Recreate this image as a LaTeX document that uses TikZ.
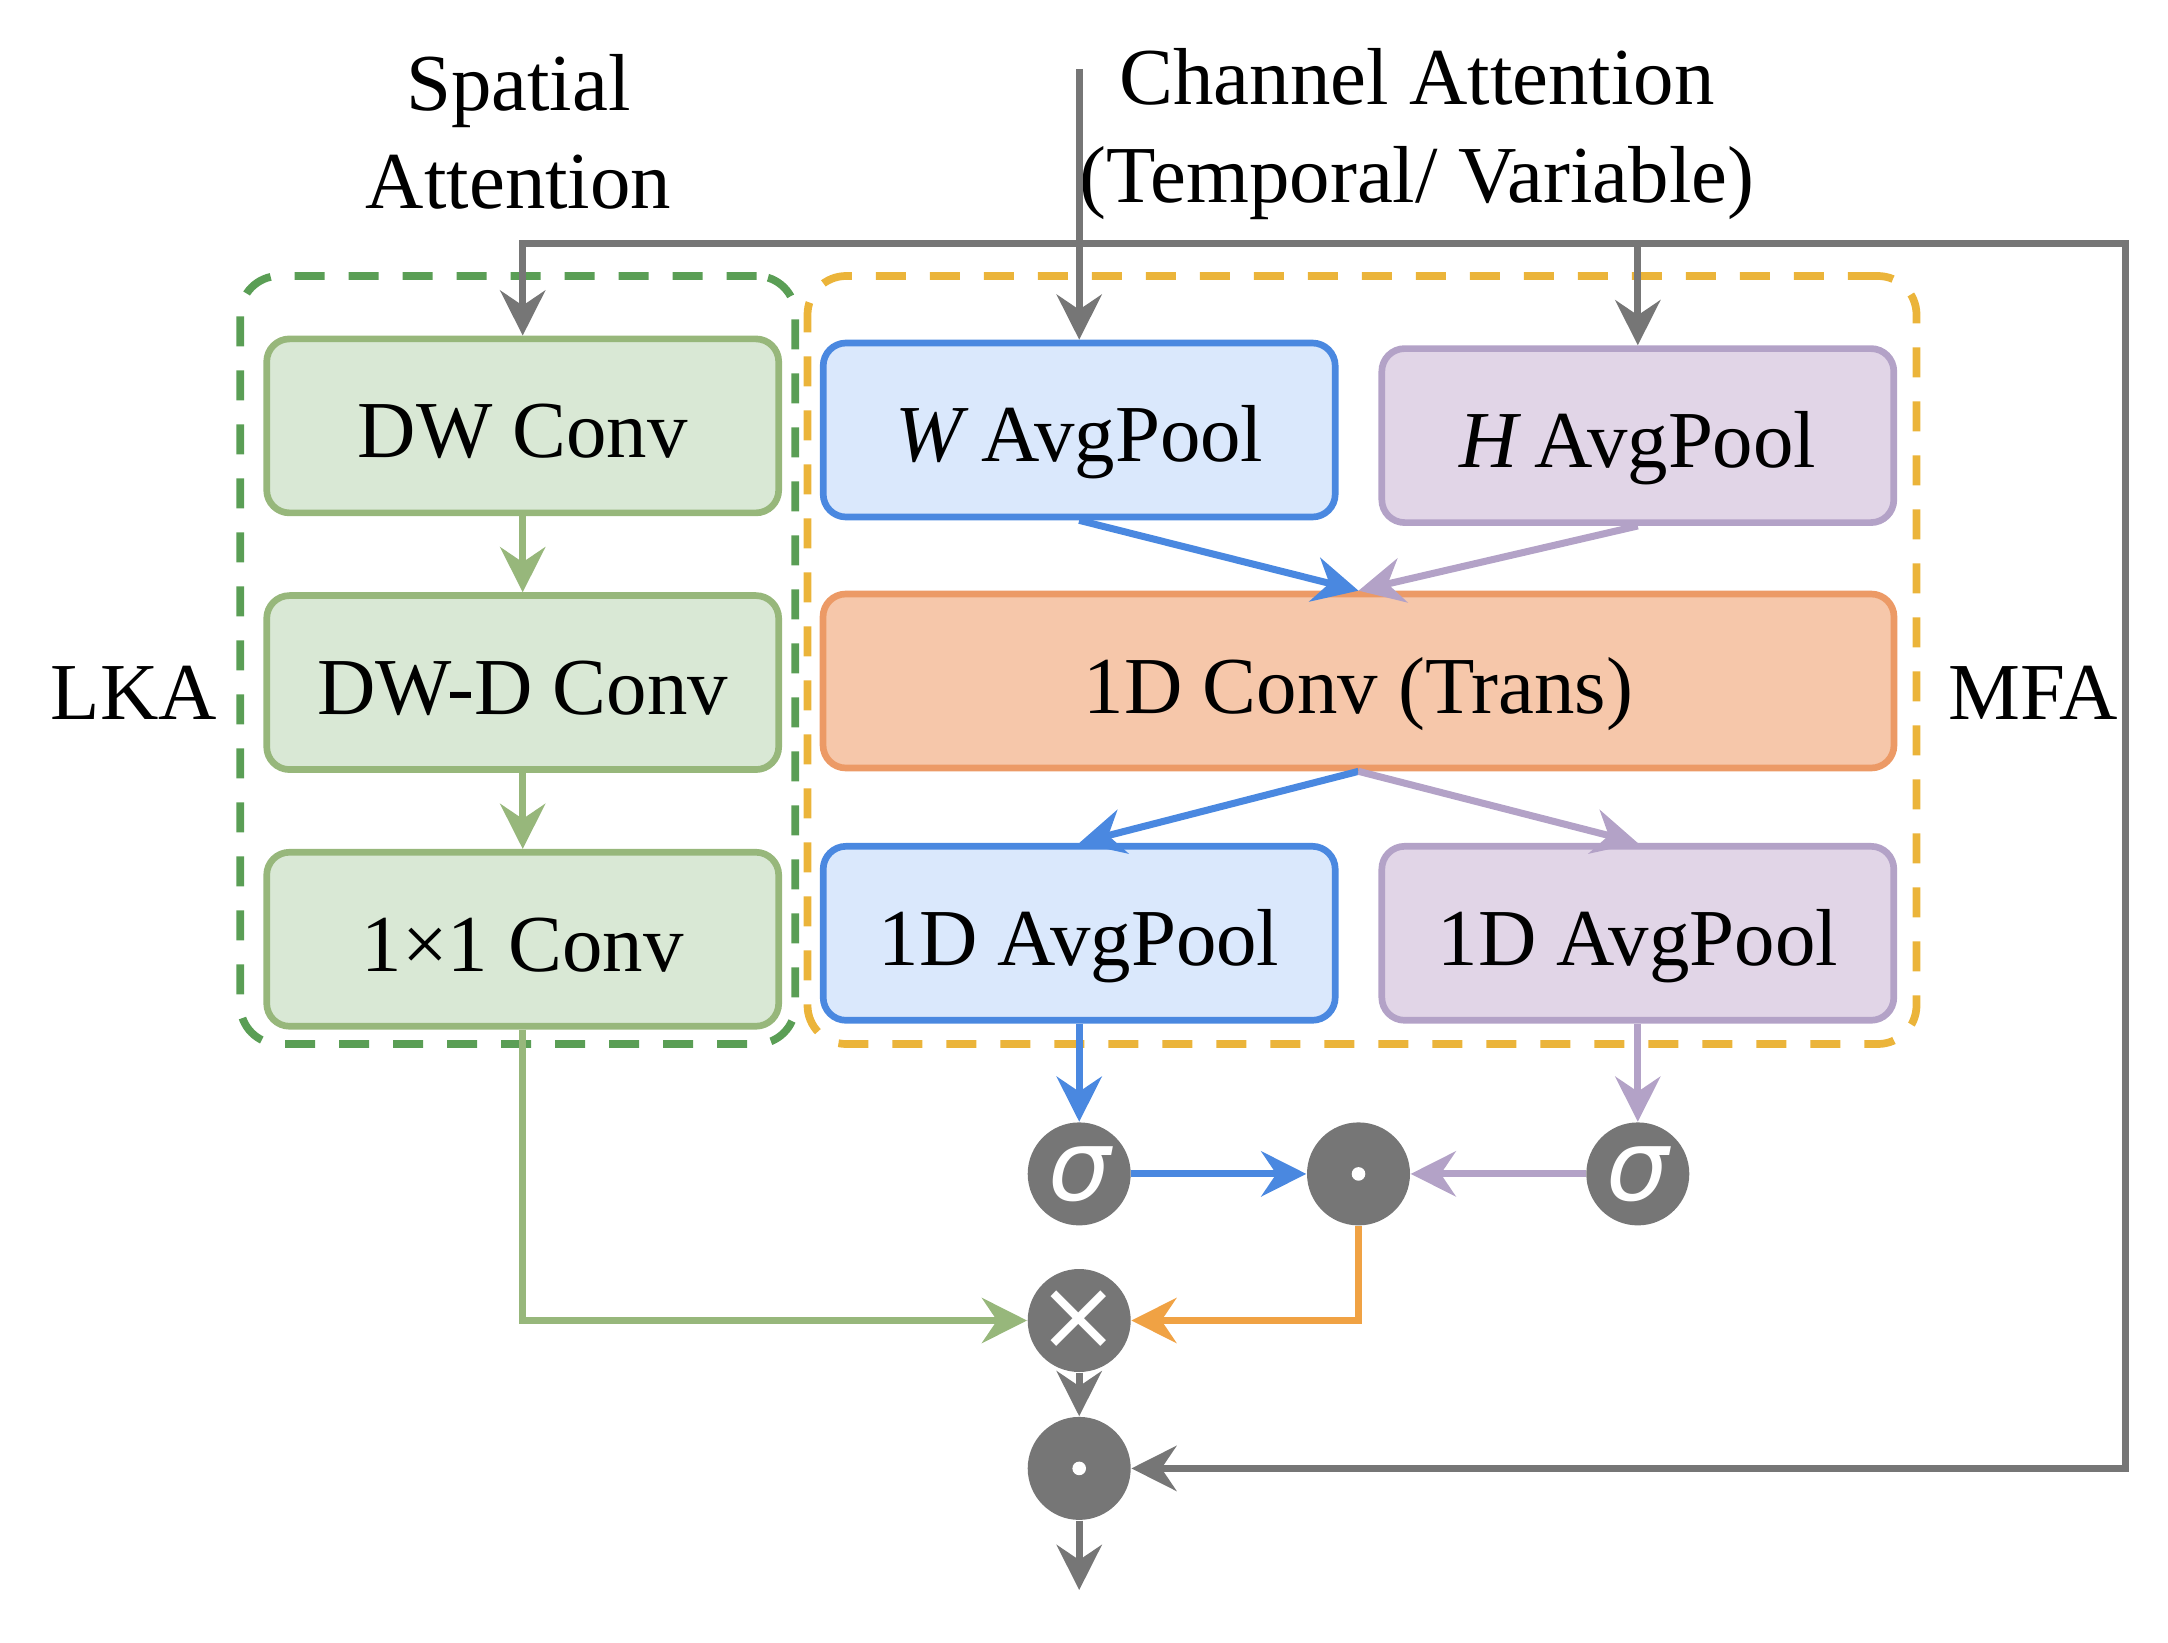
\documentclass[tikz,border=0pt]{standalone}
\usepackage{fontspec}
\setmainfont{Liberation Serif}
\newfontfamily\opfont{DejaVu Sans}
\usetikzlibrary{positioning, arrows.meta}
\definecolor{GreenFill}{HTML}{D9E8D5}
\definecolor{GreenLine}{HTML}{97B77B}
\definecolor{BlueFill}{HTML}{DAE8FC}
\definecolor{BlueLine}{HTML}{4A88E0}
\definecolor{PurpleFill}{HTML}{E1D5E7}
\definecolor{PurpleLine}{HTML}{B3A2C7}
\definecolor{OrangeFill}{HTML}{F6C7AA}
\definecolor{OrangeLine}{HTML}{EC9A66}
\definecolor{OrangeArrow}{HTML}{F0A244}
\definecolor{LkaDash}{HTML}{5A9E55}
\definecolor{MfaDash}{HTML}{EBB43A}
\definecolor{Op}{HTML}{767676}
\tikzset{
    blocknode/.style={rectangle, rounded corners=6.5pt, line width=1.9pt, minimum width=5.12cm, minimum height=1.74cm, text height=0.8cm, text depth=0.16cm, font=\fontsize{23}{28}\selectfont},
    greennode/.style={blocknode, draw=GreenLine, fill=GreenFill},
    bluenode/.style={blocknode, draw=BlueLine, fill=BlueFill},
    purplenode/.style={blocknode, draw=PurpleLine, fill=PurpleFill},
    orangenode/.style={blocknode, draw=OrangeLine, fill=OrangeFill, minimum width=10.71cm},
    groupbox/.style={rectangle, rounded corners=11pt, line width=2.2pt, dash pattern=on 0.3cm off 0.24cm, minimum height=7.68cm},
    labeltext/.style={font=\fontsize{23}{28}\selectfont, align=center},
    opnode/.style={circle, fill=Op, text=white, inner sep=0pt, minimum size=1.03cm, font=\opfont\fontsize{28}{28}\selectfont},
    dotnode/.style={opnode, path picture={\fill[white] (path picture bounding box.center) circle (0.068cm);}},
    arrow/.style={-{Stealth[length=4.5mm, width=4.5mm, inset=1.5mm]}, line width=2pt},
    grayarrow/.style={arrow, color=Op},
    greenarrow/.style={arrow, color=GreenLine},
    bluearrow/.style={arrow, color=BlueLine},
    purplearrow/.style={arrow, color=PurpleLine},
    orangearrow/.style={arrow, color=OrangeArrow},
}
\begin{document}
\begin{tikzpicture}
    \useasboundingbox (0,0) rectangle (21.68,-16.43);
    % groups and labels
    \node[groupbox, draw=LkaDash, minimum width=5.55cm] (lka) at (5.178,-6.60) {};
    \node[groupbox, draw=MfaDash, minimum width=11.09cm] (mfa) at (13.62,-6.60) {};
    \node[labeltext] (lkalabel) at (1.34,-6.93) {LKA};
    \node[labeltext] (mfalabel) at (20.33,-6.93) {MFA};
    \node[labeltext] (spatial) at (5.185,-1.32) {Spatial\\Attention};
    \node[labeltext] (channel) at (14.17,-1.34) {Channel Attention\\(Temporal/ Variable)};

    % spatial branch
    \node[greennode] (dwconv) at (5.227,-4.259) {DW Conv};
    \node[greennode, below=0.76cm of dwconv] (dwdconv) {DW-D Conv};
    \node[greennode, below=0.76cm of dwdconv] (conv11) {1×1 Conv};

    % channel branch
    \node[bluenode] (wpool) at (10.792,-4.30) {\textit{W}\,AvgPool};
    \node[purplenode] (hpool) at (16.378,-4.356) {\textit{H}\,AvgPool};
    \node[orangenode] (conv1d) at (13.585,-6.81) {1D Conv (Trans)};
    \node[bluenode] (wavg) at (10.792,-9.333) {1D AvgPool};
    \node[purplenode] (havg) at (16.378,-9.333) {1D AvgPool};

    % operators
    \node[opnode] (wsig) at (10.792,-11.739) {\itshape σ};
    \node[dotnode] (hadam) at (13.585,-11.739) {};
    \node[opnode] (hsig) at (16.378,-11.739) {\itshape σ};
    \node[opnode] (mul) at (10.792,-13.205) {×};
    \node[dotnode] (outdot) at (10.792,-14.684) {};

    \coordinate (in) at (10.792,-0.69);
    \coordinate (split) at (10.792,-2.434);
    \coordinate (loop) at (21.252,-2.434);
    \coordinate (out) at (10.792,-15.90);

    % input and skip
    \draw[grayarrow] (in) -- (wpool);
    \draw[grayarrow] (split) -| (dwconv.north);
    \draw[grayarrow] (split) -| (hpool.north);
    \draw[grayarrow] (split) -- (loop) |- (outdot);

    \draw[greenarrow] (dwconv) -- (dwdconv);
    \draw[greenarrow] (dwdconv) -- (conv11);
    \draw[bluearrow] (wpool.south) -- (conv1d.north);
    \draw[purplearrow] (hpool.south) -- (conv1d.north);
    \draw[bluearrow] (conv1d.south) -- (wavg.north);
    \draw[purplearrow] (conv1d.south) -- (havg.north);
    \draw[bluearrow] (wavg) -- (wsig);
    \draw[purplearrow] (havg) -- (hsig);
    \draw[bluearrow] (wsig) -- (hadam);
    \draw[purplearrow] (hsig) -- (hadam);
    \draw[orangearrow] (hadam) |- (mul);
    \draw[greenarrow] (conv11) |- (mul);
    \draw[grayarrow] (mul) -- (outdot);
    \draw[grayarrow] (outdot) -- (out);
\end{tikzpicture}
\end{document}
